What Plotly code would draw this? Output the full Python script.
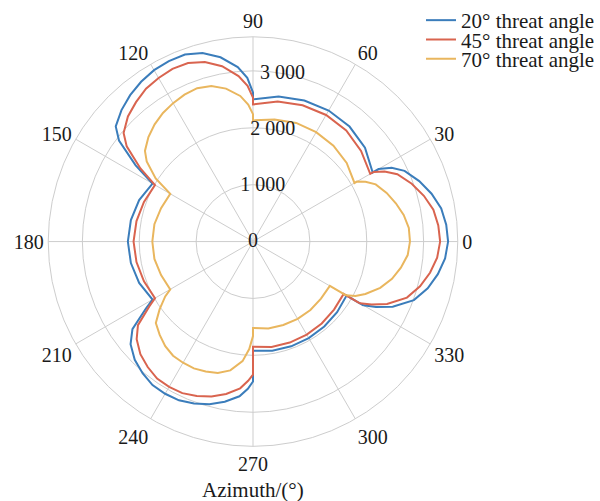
import plotly.graph_objects as go

# Azimuth samples (degrees), shared by all three series; each 60-degree lobe
# is listed separately so the cusps at 30, 90, 150, 210, 270, 330 stay sharp.
theta = [330, 332, 335, 340, 345, 350, 355, 0, 5, 10, 15, 20, 25, 28, 30,
         30, 40, 50, 60, 70, 80, 90,
         90, 92, 95, 100, 105, 110, 115, 120, 125, 130, 135, 140, 143, 147, 150,
         150, 160, 170, 180, 190, 200, 210,
         210, 212, 216, 220, 225, 230, 235, 240, 245, 250, 255, 260, 265, 268, 270,
         270, 280, 290, 300, 310, 320, 330,
         330]

r_20 = [2240, 2450, 2710, 3010, 3180, 3300, 3390, 3430, 3410, 3360, 3250, 3110, 2940, 2760, 2550,
        2430, 2570, 2640, 2660, 2640, 2590, 2500,
        2620, 2880, 3080, 3290, 3430, 3500, 3500, 3480, 3430, 3360, 3270, 3150, 2950, 2460, 2040,
        2040, 2130, 2180, 2200, 2180, 2130, 2040,
        2040, 2220, 2620, 2810, 2940, 3020, 3080, 3090, 3080, 3030, 2960, 2860, 2730, 2590, 2460,
        1920, 1950, 1960, 1960, 1950, 1930, 1900,
        2240]

r_45 = [2170, 2360, 2600, 2880, 3040, 3160, 3250, 3290, 3270, 3220, 3110, 2970, 2800, 2620, 2450,
        2380, 2480, 2550, 2570, 2550, 2500, 2410,
        2530, 2740, 2920, 3130, 3270, 3340, 3350, 3320, 3280, 3200, 3110, 2970, 2780, 2360, 1990,
        1990, 2040, 2080, 2100, 2080, 2040, 1990,
        1990, 2150, 2500, 2670, 2800, 2880, 2940, 2950, 2940, 2890, 2820, 2720, 2590, 2450, 2340,
        1850, 1880, 1890, 1890, 1880, 1860, 1840,
        2170]

r_70 = [1890, 2040, 2180, 2380, 2530, 2640, 2730, 2760, 2750, 2690, 2600, 2500, 2380, 2240, 2110,
        2060, 2150, 2200, 2220, 2220, 2180, 2130,
        2240, 2410, 2570, 2730, 2830, 2870, 2850, 2810, 2760, 2690, 2600, 2480, 2340, 2040, 1680,
        1680, 1720, 1760, 1770, 1760, 1720, 1680,
        1680, 1820, 2030, 2230, 2320, 2400, 2450, 2460, 2460, 2430, 2390, 2300, 2110, 1890, 1660,
        1520, 1550, 1560, 1570, 1570, 1560, 1560,
        1890]

series_names = ["20° threat angle", "45° threat angle", "70° threat angle"]
series_colors = ["#3b7dbb", "#d9644f", "#e9b65e"]

angular_ticks = [0, 30, 60, 90, 120, 150, 180, 210, 240, 270, 300, 330]
angular_tick_labels = ["0", "30", "60", "90", "120", "150", "180", "210", "240", "270", "300", "330"]

radial_ticks = [0, 1000, 2000, 3000]
radial_tick_labels = ["0", "1 000", "2 000", "3 000"]
radial_label_angle = 80
radial_max = 3600

FONT = "Liberation Serif, Times New Roman, serif"
TXT = "#1a1a1a"
GRID = "#cdcdcd"

fig = go.Figure()
legend_ids = ["legend", "legend2", "legend3"]
for name, r, col, lg in zip(series_names, [r_20, r_45, r_70], series_colors, legend_ids):
    fig.add_trace(go.Scatterpolar(r=r, theta=theta, mode="lines", name=name, legend=lg,
                                  line=dict(color=col, width=2)))

fig.add_trace(go.Scatterpolar(r=radial_ticks, theta=[radial_label_angle] * len(radial_ticks),
                              mode="text", text=radial_tick_labels, textposition="middle center",
                              textfont=dict(family=FONT, size=20, color=TXT),
                              showlegend=False, hoverinfo="skip"))

legend_rows = [17.5, 37, 56.5]
legend_common = dict(xanchor="left", yanchor="middle", bgcolor="rgba(0,0,0,0)",
                     font=dict(family=FONT, size=21, color=TXT))
legends = {lg: dict(x=421 / 600, y=1 - yc / 501, **legend_common)
           for lg, yc in zip(legend_ids, legend_rows)}

fig.update_layout(
    width=600, height=501,
    margin=dict(l=0, r=0, t=0, b=0),
    paper_bgcolor="white",
    font=dict(family=FONT, size=20, color=TXT),
    polar=dict(
        domain=dict(x=[47 / 600, 459 / 600], y=[55 / 501, 467 / 501]),
        bgcolor="white",
        radialaxis=dict(range=[0, radial_max], tickvals=radial_ticks[1:], showticklabels=False,
                        ticks="", showline=False, gridcolor=GRID, gridwidth=1),
        angularaxis=dict(direction="counterclockwise", rotation=0, tickmode="array",
                         tickvals=angular_ticks, ticktext=angular_tick_labels, ticks="",
                         showline=True, linecolor=GRID, linewidth=1, gridcolor=GRID, gridwidth=1,
                         tickfont=dict(family=FONT, size=20, color=TXT)),
    ),
    annotations=[dict(text="Azimuth/(°)", x=253 / 600, y=1 - 490 / 501, xref="paper", yref="paper",
                      xanchor="center", yanchor="middle", showarrow=False,
                      font=dict(family=FONT, size=21, color=TXT))],
    **legends,
)

fig.write_html("out.html", config={"displayModeBar": False},
               post_script="document.body.style.margin='0';")
